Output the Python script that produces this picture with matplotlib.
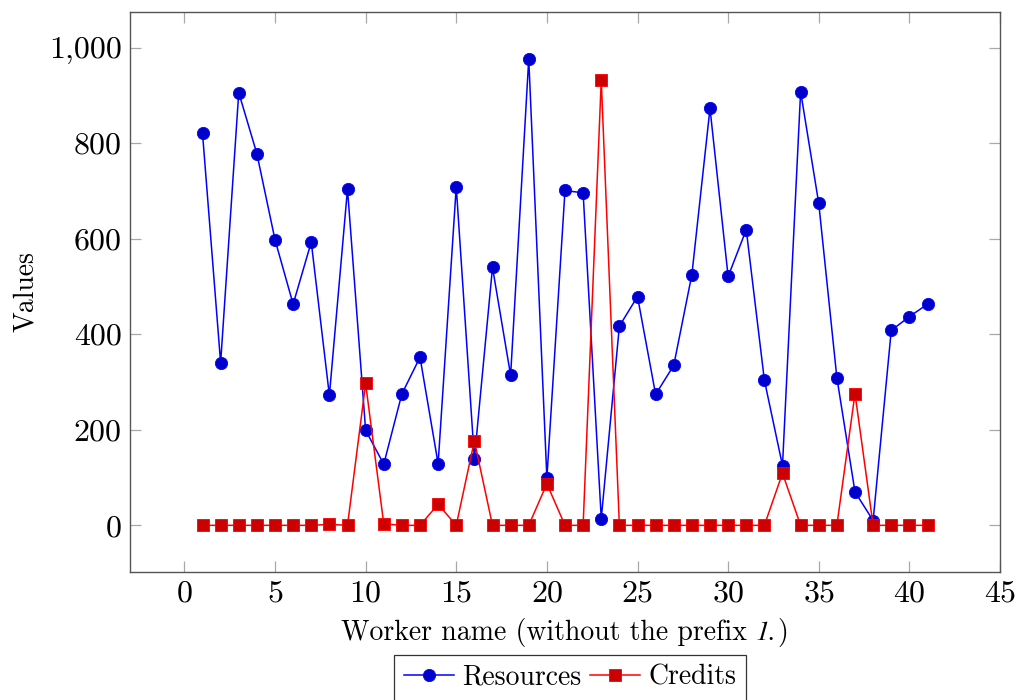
import numpy as np
import matplotlib
matplotlib.use("Agg")
import matplotlib.pyplot as plt
from matplotlib.ticker import FuncFormatter, MultipleLocator
from matplotlib.offsetbox import TextArea, HPacker, AnchoredOffsetbox

plt.rcParams['font.family'] = ['cmr10', 'DejaVu Serif']
plt.rcParams['mathtext.fontset'] = 'cm'
plt.rcParams['axes.formatter.use_mathtext'] = True

workers = list(range(1, 42))
resources = [821, 340, 906, 778, 598, 463, 593, 272, 704, 199,
             128, 275, 352, 129, 709, 139, 540, 314, 977, 99,
             701, 696, 14, 417, 479, 274, 335, 525, 873, 521,
             619, 304, 125, 908, 674, 309, 70, 10, 408, 437,
             463]
credits = [0, 0, 0, 0, 0, 0, 0, 2, 0, 297,
           3, 0, 0, 44, 0, 177, 0, 0, 0, 87,
           0, 0, 932, 0, 0, 0, 0, 0, 0, 0,
           0, 0, 109, 0, 0, 0, 276, 0, 0, 0,
           0]

fig = plt.figure(figsize=(10.26, 7), dpi=100)
ax = fig.add_axes([130/1026, 1 - 572/700, 870/1026, 560/700])

ax.plot(workers, resources, color='#0000ff', lw=1.1, marker='o', ms=8.8,
        mfc='#0000cc', mec='#0000ff', mew=0.6, label='Resources', zorder=3)
ax.plot(workers, credits, color='#ff0000', lw=1.1, marker='s', ms=8.0,
        mfc='#cc0000', mec='#ff0000', mew=0.6, label='Credits', zorder=3)

ax.set_xlim(-3, 45)
ax.set_ylim(-97.7, 1074.7)
ax.xaxis.set_major_locator(MultipleLocator(5))
ax.yaxis.set_major_locator(MultipleLocator(200))
ax.yaxis.set_major_formatter(FuncFormatter(lambda v, p: '{:,.0f}'.format(v)))

ax.tick_params(direction='in', length=8, width=0.9, color='#a8a8a8',
               top=True, right=True, labelsize=23, pad=6)
for s in ax.spines.values():
    s.set_color('#555555')
    s.set_linewidth(1.0)

# x label with the prefix in italics
fs = 20
tail = HPacker(children=[
    TextArea('1.', textprops=dict(fontsize=fs, family='STIXGeneral', style='italic')),
    TextArea(')', textprops=dict(fontsize=fs)),
], sep=1, pad=0, align='baseline')
xlab = HPacker(children=[
    TextArea('Worker name (without the prefix', textprops=dict(fontsize=fs)),
    tail,
], sep=6, pad=0, align='baseline')
anch = AnchoredOffsetbox(loc='upper center', child=xlab, pad=0, borderpad=0,
                         frameon=False, bbox_to_anchor=(0.5, -0.082),
                         bbox_transform=ax.transAxes)
ax.add_artist(anch)

ax.set_ylabel('Values', fontsize=fs, labelpad=7)

leg = ax.legend(loc='upper center', bbox_to_anchor=(0.506, -0.148), ncol=2,
                fontsize=fs, frameon=True, fancybox=False, edgecolor='black',
                handlelength=1.8, handletextpad=0.3, columnspacing=0.3,
                borderpad=0.35, borderaxespad=0)
leg.get_frame().set_linewidth(0.9)

fig.savefig('out.png', dpi=100)
